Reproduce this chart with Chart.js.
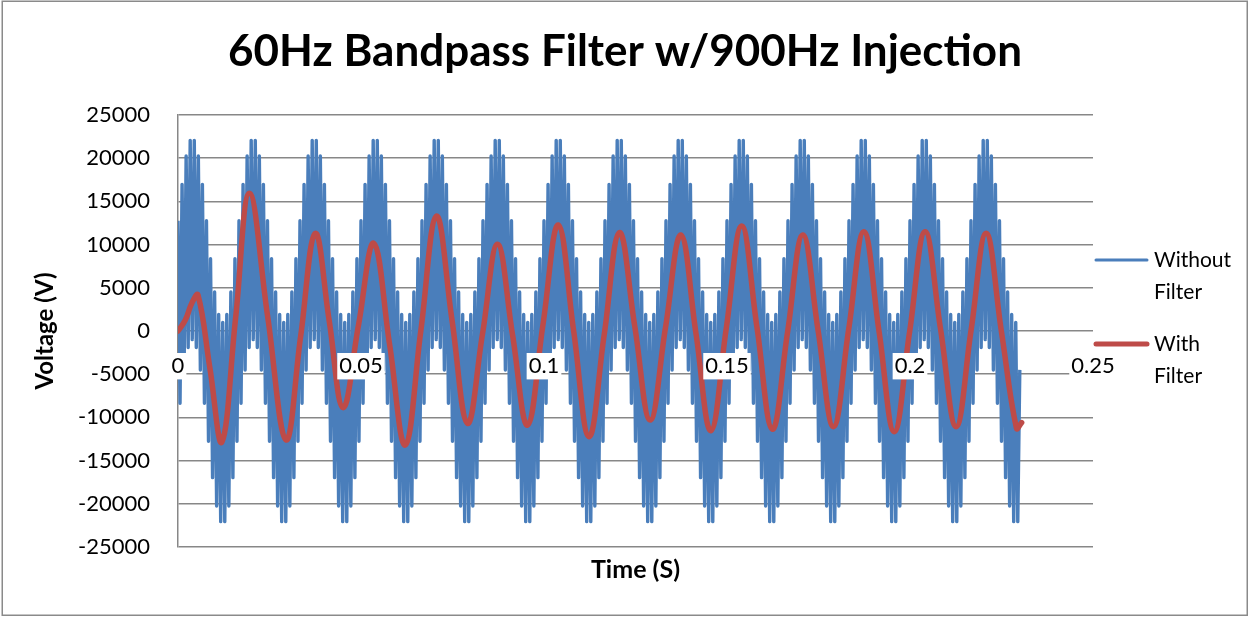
<!DOCTYPE html>
<html><head><meta charset="utf-8">
<script src="https://cdn.jsdelivr.net/npm/chart.js@4.4.0/dist/chart.umd.min.js"></script>
<style>html,body{margin:0;padding:0;background:#fff}#wrap{width:1250px;height:618px;position:relative}</style>
</head><body><div id="wrap"><canvas id="c" width="1250" height="618"></canvas></div>
<script>
const titleText = '60Hz Bandpass Filter w/900Hz Injection';
const xAxisTitle = 'Time (S)';
const yAxisTitle = 'Voltage (V)';
const seriesNames = ['Without Filter', 'With Filter'];
const xTickValues = [0, 0.05, 0.1, 0.15, 0.2, 0.25];
const xTickLabels = ['0', '0.05', '0.1', '0.15', '0.2', '0.25'];
const yTickValues = [-25000, -20000, -15000, -10000, -5000, 0, 5000, 10000, 15000, 20000, 25000];
const yTickLabels = ['-25000', '-20000', '-15000', '-10000', '-5000', '0', '5000', '10000', '15000', '20000', '25000'];

// unfiltered signal, sampled at 1800 samples per second
const sampleRate = 1800;
const withoutFilter = [
12763,-8359,16975,-4524,20266,-1921,22067,-1000,22067,-1921,20266,-4524,16975,-8359,12763,-12763,8359,-16975,4524,-20266,1921,-22067,1000,-22067,1921,-20266,4524,-16975,8359,-12763,
12763,-8359,16975,-4524,20266,-1921,22067,-1000,22067,-1921,20266,-4524,16975,-8359,12763,-12763,8359,-16975,4524,-20266,1921,-22067,1000,-22067,1921,-20266,4524,-16975,8359,-12763,
12763,-8359,16975,-4524,20266,-1921,22067,-1000,22067,-1921,20266,-4524,16975,-8359,12763,-12763,8359,-16975,4524,-20266,1921,-22067,1000,-22067,1921,-20266,4524,-16975,8359,-12763,
12763,-8359,16975,-4524,20266,-1921,22067,-1000,22067,-1921,20266,-4524,16975,-8359,12763,-12763,8359,-16975,4524,-20266,1921,-22067,1000,-22067,1921,-20266,4524,-16975,8359,-12763,
12763,-8359,16975,-4524,20266,-1921,22067,-1000,22067,-1921,20266,-4524,16975,-8359,12763,-12763,8359,-16975,4524,-20266,1921,-22067,1000,-22067,1921,-20266,4524,-16975,8359,-12763,
12763,-8359,16975,-4524,20266,-1921,22067,-1000,22067,-1921,20266,-4524,16975,-8359,12763,-12763,8359,-16975,4524,-20266,1921,-22067,1000,-22067,1921,-20266,4524,-16975,8359,-12763,
12763,-8359,16975,-4524,20266,-1921,22067,-1000,22067,-1921,20266,-4524,16975,-8359,12763,-12763,8359,-16975,4524,-20266,1921,-22067,1000,-22067,1921,-20266,4524,-16975,8359,-12763,
12763,-8359,16975,-4524,20266,-1921,22067,-1000,22067,-1921,20266,-4524,16975,-8359,12763,-12763,8359,-16975,4524,-20266,1921,-22067,1000,-22067,1921,-20266,4524,-16975,8359,-12763,
12763,-8359,16975,-4524,20266,-1921,22067,-1000,22067,-1921,20266,-4524,16975,-8359,12763,-12763,8359,-16975,4524,-20266,1921,-22067,1000,-22067,1921,-20266,4524,-16975,8359,-12763,
12763,-8359,16975,-4524,20266,-1921,22067,-1000,22067,-1921,20266,-4524,16975,-8359,12763,-12763,8359,-16975,4524,-20266,1921,-22067,1000,-22067,1921,-20266,4524,-16975,8359,-12763,
12763,-8359,16975,-4524,20266,-1921,22067,-1000,22067,-1921,20266,-4524,16975,-8359,12763,-12763,8359,-16975,4524,-20266,1921,-22067,1000,-22067,1921,-20266,4524,-16975,8359,-12763,
12763,-8359,16975,-4524,20266,-1921,22067,-1000,22067,-1921,20266,-4524,16975,-8359,12763,-12763,8359,-16975,4524,-20266,1921,-22067,1000,-22067,1921,-20266,4524,-16975,8359,-12763,
12763,-8359,16975,-4524,20266,-1921,22067,-1000,22067,-1921,20266,-4524,16975,-8359,12763,-12763,8359,-16975,4524,-20266,1921,-22067,1000,-22067,1921,-20266,4524,-16975,8359,-12763,
12763,-8359,16975,-4524,20266,-1921,22067,-1000,22067,-1921,20266,-4524,16975,-8359,12763,-12763,8359,-16975,4524,-20266,1921,-22067,1000,-22067,
-4500
];

// filtered signal: times (s) and values (V) read at extremes and crossings
const withFilterTime = [0,0.0020,0.0038,0.00546,0.00873,0.0120,0.01575,0.0195,0.0245,0.0295,0.0335,0.0375,0.0413,0.0451,0.0493,0.0535,0.0578,0.0621,0.06635,0.0706,0.07485,0.0791,0.0832,0.0873,0.0914,0.0955,0.0997,0.1039,0.1081,0.1123,0.11645,0.1206,0.1248,0.1290,0.1332,0.1374,0.1415,0.1456,0.1498,0.1540,0.1582,0.1624,0.16655,0.1707,0.1749,0.1791,0.18325,0.1874,0.19155,0.1957,0.1999,0.2041,0.20835,0.2126,0.2167,0.2208,0.22495,0.2291,0.2305];
const withFilterValue = [0,1270,3240,4170,-4340,-12850,1545,15940,1670,-12600,-650,11300,1215,-8870,640,10150,-1525,-13200,50,13300,1300,-10700,-335,10030,-435,-10900,685,12270,20,-12230,-425,11380,540,-10300,405,11110,-215,-11540,305,12150,385,-11380,-135,11110,20,-11070,215,11500,-75,-11650,-75,11500,215,-11070,115,11300,20,-11260,-10600];

const FAMILY = "Lato, 'Noto Sans', sans-serif";
const BLUE = '#4A7EBB';
const RED = '#BE4B48';
const GRID = '#878787';

const framePlugin = {
  id: 'frame',
  beforeDraw(chart) {
    const ctx = chart.ctx;
    ctx.save();
    ctx.fillStyle = '#fff';
    ctx.fillRect(0, 0, chart.width, chart.height);
    ctx.strokeStyle = '#8a8a8a';
    ctx.lineWidth = 1.5;
    ctx.strokeRect(2.25, 1.25, chart.width - 5, chart.height - 4);
    ctx.restore();
  }
};

const sideLegend = {
  id: 'sideLegend',
  afterDraw(chart) {
    const ctx = chart.ctx;
    const a = chart.chartArea;
    const rows = [{ ds: 0, y: a.top + 145 }, { ds: 1, y: a.top + 229 }];
    ctx.save();
    rows.forEach(r => {
      const ds = chart.data.datasets[r.ds];
      ctx.strokeStyle = ds.borderColor;
      ctx.lineWidth = r.ds === 0 ? 3 : 5;
      ctx.lineCap = 'round';
      ctx.beginPath();
      ctx.moveTo(a.right + 3, r.y);
      ctx.lineTo(a.right + 54, r.y);
      ctx.stroke();
      ctx.fillStyle = '#000';
      ctx.font = '21px ' + FAMILY;
      ctx.textBaseline = 'middle';
      ctx.textAlign = 'left';
      const words = ds.label.split(' ');
      words.forEach((w, i) => ctx.fillText(w, a.right + 61, r.y + i * 32));
    });
    ctx.restore();
  }
};

new Chart(document.getElementById('c'), {
  type: 'line',
  data: {
    datasets: [
      {
        label: seriesNames[0],
        data: withoutFilter.map((v, i) => ({ x: i / sampleRate, y: v })),
        borderColor: BLUE, borderWidth: 3.4, pointRadius: 0, tension: 0,
        borderJoinStyle: 'round', xAxisID: 'x', yAxisID: 'y', order: 2
      },
      {
        label: seriesNames[1],
        data: withFilterTime.map((t, i) => ({ x: t, y: withFilterValue[i] })),
        borderColor: RED, borderWidth: 5.5, pointRadius: 0, tension: 0.4,
        borderCapStyle: 'round', borderJoinStyle: 'round', xAxisID: 'x', yAxisID: 'y', order: 1
      }
    ]
  },
  options: {
    responsive: false, animation: false, events: [],
    layout: { padding: { top: 10, left: 10, right: 10, bottom: 10 } },
    scales: {
      x: {
        type: 'linear', position: { y: 0 }, min: 0, max: 0.25,
        afterBuildTicks: s => { s.ticks = xTickValues.map(v => ({ value: v })); },
        afterFit: s => { s.height = 0; },
        ticks: { z: 1, callback: (v, i) => xTickLabels[i], font: { family: FAMILY, size: 22 }, color: '#000', padding: 22, maxRotation: 0, autoSkip: false,
                 showLabelBackdrop: true, backdropColor: '#ffffff', backdropPadding: { top: 0, bottom: 0, left: 2, right: 2 } },
        grid: { display: false, drawTicks: false },
        border: { display: false }
      },
      y: {
        type: 'linear', position: 'left', min: -25000, max: 25000,
        afterBuildTicks: s => { s.ticks = yTickValues.map(v => ({ value: v })); },
        afterFit: s => { s.width = 168; },
        ticks: { callback: (v, i) => yTickLabels[i], font: { family: FAMILY, size: 22 }, color: '#000', padding: 28, autoSkip: false },
        grid: { color: GRID, lineWidth: 1.5, drawTicks: false },
        border: { display: true, color: GRID, width: 1.5 },
        title: { display: true, text: yAxisTitle, font: { family: FAMILY, size: 24, weight: 'bold', lineHeight: 1.2 }, color: '#000', padding: { top: 21, bottom: 0 } }
      },
      reserve: {
        type: 'linear', position: 'right', min: 0, max: 1,
        afterFit: s => { s.width = 147; },
        ticks: { display: false }, grid: { display: false, drawTicks: false }, border: { display: false }
      }
    },
    plugins: {
      legend: { display: false },
      tooltip: { enabled: false },
      title: { display: true, text: titleText, color: '#000', font: { family: FAMILY, size: 44, weight: 'bold', lineHeight: 1.2 }, padding: { top: 15.6, bottom: 36.6 } },
      subtitle: { display: true, position: 'bottom', fullSize: false, text: xAxisTitle, color: '#000', font: { family: FAMILY, size: 25, weight: 'bold', lineHeight: 1.2 }, padding: { top: 8, bottom: 23 } }
    }
  },
  plugins: [framePlugin, sideLegend]
});
</script>
</body></html>
